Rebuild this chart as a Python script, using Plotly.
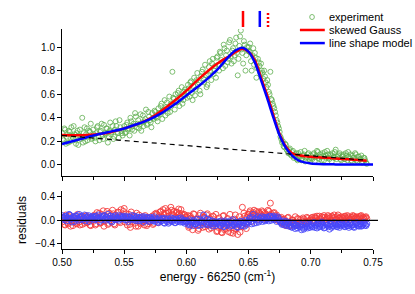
import plotly.graph_objects as go

# ---------------- data ----------------
# measured points come on two interleaved energy grids (energy - 66250, cm^-1)
grid_a = [round(0.5 + 0.00125 * i, 6) for i in range(197)]
grid_b = [round(0.500625 + 0.00125 * i, 6) for i in range(196)]

experiment_a = [
    0.27, 0.21, 0.30, 0.24, 0.19, 0.28, 0.32, 0.23, 0.26, 0.18, 0.29, 0.25, 0.22, 0.40, 0.27, 0.20, 0.31, 0.24, 0.28, 0.22,
    0.30, 0.23, 0.27, 0.33, 0.21, 0.29, 0.25, 0.34, 0.26, 0.31, 0.24, 0.36, 0.28, 0.22, 0.30, 0.33, 0.27, 0.38, 0.29, 0.25,
    0.33, 0.28, 0.36, 0.31, 0.40, 0.30, 0.35, 0.44, 0.32, 0.38, 0.34, 0.29, 0.42, 0.37, 0.47, 0.35, 0.41, 0.36, 0.44, 0.39,
    0.45, 0.40, 0.48, 0.43, 0.52, 0.46, 0.55, 0.49, 0.44, 0.58, 0.52, 0.79, 0.56, 0.60, 0.53, 0.63, 0.58, 0.66, 0.55, 0.64,
    0.62, 0.68, 0.58, 0.71, 0.55, 0.74, 0.64, 0.78, 0.70, 0.60, 0.79, 0.73, 0.85, 0.66, 0.77, 0.88, 0.72, 0.90, 0.80, 0.74,
    0.92, 0.80, 0.95, 0.87, 1.02, 0.84, 0.97, 0.90, 1.06, 0.86, 0.99, 0.93, 1.08, 0.76, 1.01, 1.14, 0.95, 1.05, 0.80, 1.00,
    1.00, 1.03, 0.80, 0.99, 0.95, 0.74, 0.90, 0.84, 0.86, 0.78, 0.80, 0.70, 0.72, 0.62, 0.79, 0.55, 0.50, 0.45, 0.38, 0.33,
    0.28, 0.22, 0.20, 0.15, 0.17, 0.12, 0.13, 0.09, 0.11, 0.06, 0.09, 0.05, 0.10, 0.07, 0.04, 0.08, 0.12, 0.06, 0.09, 0.05,
    0.08, 0.05, 0.10, 0.07, 0.12, 0.06, 0.09, 0.04, 0.08, 0.11, 0.06, 0.09, 0.05, 0.08, 0.10, 0.06, 0.13, 0.07, 0.09, 0.05,
    0.07, 0.09, 0.05, 0.08, 0.11, 0.06, 0.04, 0.08, 0.05, 0.09, 0.03, 0.07, 0.05, 0.02, 0.06, 0.04, 0.01,
]
experiment_b = [
    0.22, 0.31, 0.18, 0.26, 0.29, 0.20, 0.25, 0.33, 0.21, 0.27, 0.17, 0.30, 0.24, 0.19, 0.32, 0.26, 0.21, 0.29, 0.35, 0.23,
    0.26, 0.20, 0.32, 0.24, 0.28, 0.35, 0.22, 0.27, 0.31, 0.19, 0.29, 0.26, 0.33, 0.24, 0.37, 0.28, 0.23, 0.32, 0.27, 0.30,
    0.27, 0.34, 0.30, 0.25, 0.37, 0.33, 0.29, 0.41, 0.35, 0.31, 0.43, 0.36, 0.33, 0.39, 0.34, 0.45, 0.38, 0.32, 0.40, 0.46,
    0.41, 0.37, 0.44, 0.50, 0.39, 0.47, 0.42, 0.53, 0.48, 0.45, 0.51, 0.57, 0.47, 0.54, 0.61, 0.50, 0.56, 0.52, 0.62, 0.59,
    0.57, 0.65, 0.70, 0.61, 0.67, 0.59, 0.72, 0.68, 0.63, 0.75, 0.81, 0.70, 0.76, 0.68, 0.83, 0.79, 0.86, 0.77, 0.84, 0.91,
    0.85, 0.96, 0.89, 0.82, 0.99, 0.93, 0.87, 1.04, 0.92, 0.97, 0.88, 1.03, 0.95, 0.90, 1.09, 0.98, 0.86, 1.02, 0.93, 0.97,
    0.96, 0.88, 0.93, 0.85, 0.91, 0.82, 0.87, 0.78, 0.80, 0.73, 0.75, 0.66, 0.68, 0.60, 0.56, 0.52, 0.48, 0.42, 0.36, 0.31,
    0.24, 0.19, 0.16, 0.18, 0.13, 0.10, 0.14, 0.08, 0.12, 0.07, 0.10, 0.04, 0.08, 0.11, 0.06, 0.09, 0.03, 0.07, 0.10, 0.06,
    0.06, 0.09, 0.03, 0.08, 0.11, 0.05, 0.07, 0.10, 0.04, 0.08, 0.12, 0.06, 0.09, 0.03, 0.07, 0.11, 0.05, 0.08, 0.10, 0.04,
    0.08, 0.05, 0.10, 0.04, 0.07, 0.09, 0.03, 0.06, 0.10, 0.04, 0.07, 0.05, 0.08, 0.03, 0.06, 0.02,
]

resid_skewed_a = [
    -0.03, 0.05, -0.08, 0.02, -0.06, 0.08, -0.02, -0.09, 0.04, -0.05, 0.10, -0.03, 0.06, -0.07, 0.01, 0.07, -0.04, 0.03, -0.08, 0.05,
    -0.02, 0.09, -0.06, 0.04, 0.12, -0.04, 0.07, -0.10, 0.02, 0.15, -0.05, 0.08, -0.03, 0.11, -0.08, 0.05, 0.14, -0.02, 0.18, 0.06,
    0.20, 0.04, -0.08, 0.10, -0.12, 0.02, 0.08, -0.05, 0.12, -0.10, 0.03, -0.04, 0.06, -0.08, 0.01, -0.06, 0.04, -0.02, 0.07, -0.05,
    0.03, 0.10, -0.04, 0.14, 0.06, 0.18, 0.02, 0.12, 0.16, 0.08, 0.22, 0.10, 0.15, 0.05, 0.13, 0.19, 0.07, 0.11, 0.03, 0.09,
    -0.02, 0.08, -0.10, 0.04, -0.16, 0.10, -0.06, 0.02, -0.14, 0.12, -0.04, 0.06, -0.11, 0.09, -0.08, 0.03, -0.13, 0.07, -0.05, 0.10,
    -0.18, 0.04, -0.10, -0.21, 0.08, -0.14, -0.04, -0.19, 0.10, -0.08, -0.22, 0.02, -0.15, -0.24, 0.06, -0.11, 0.22, 0.12, -0.06, 0.05,
    0.10, 0.16, -0.02, 0.13, 0.06, 0.15, 0.02, 0.12, 0.08, 0.14, 0.04, 0.10, 0.06, 0.15, 0.29, 0.08, 0.12, 0.03, 0.09, 0.05,
    -0.02, 0.05, -0.06, 0.02, -0.09, 0.04, -0.05, -0.08, 0.01, -0.04, 0.06, -0.07, 0.02, -0.03, -0.06, 0.04, -0.01, -0.05, 0.03, -0.02,
    0.02, 0.05, -0.01, 0.04, 0.07, 0.01, 0.03, 0.06, -0.02, 0.05, 0.02, 0.08, 0.03, 0.00, 0.05, 0.09, 0.02, 0.06, 0.04, 0.01,
    0.05, 0.02, 0.07, 0.03, 0.06, 0.01, 0.04, 0.08, 0.02, 0.05, 0.03, 0.06, 0.07, 0.02, 0.04, 0.05, 0.03,
]
resid_skewed_b = [
    0.04, -0.07, 0.09, -0.04, 0.06, -0.10, 0.03, -0.01, 0.07, -0.06, 0.02, -0.08, 0.05, 0.00, -0.05, 0.08, -0.03, 0.04, -0.09, 0.02,
    0.07, -0.08, 0.13, 0.01, -0.05, 0.10, 0.16, -0.02, 0.06, -0.07, 0.12, 0.03, 0.17, -0.06, 0.09, 0.02, 0.13, -0.04, 0.08, 0.15,
    -0.03, 0.11, 0.05, -0.07, 0.14, -0.02, 0.06, -0.10, 0.02, 0.09, -0.06, 0.04, -0.01, 0.08, -0.09, 0.05, -0.03, 0.02, -0.07, 0.10,
    0.12, 0.01, 0.08, 0.15, 0.04, 0.11, 0.20, 0.06, 0.13, 0.00, 0.17, 0.09, 0.04, 0.14, 0.08, 0.12, 0.18, 0.02, 0.10, 0.06,
    0.05, -0.12, 0.07, -0.03, 0.11, -0.09, 0.01, -0.17, 0.08, -0.02, -0.12, 0.05, -0.07, 0.11, -0.15, 0.02, -0.09, 0.06, -0.04, -0.19,
    -0.12, -0.05, -0.20, 0.07, -0.16, -0.09, 0.03, -0.13, -0.21, -0.02, -0.17, 0.09, -0.12, -0.07, -0.20, 0.01, -0.10, 0.07, -0.14, 0.10,
    0.13, 0.06, 0.11, 0.17, 0.09, 0.04, 0.14, 0.10, 0.16, 0.07, 0.12, 0.02, 0.17, 0.08, 0.11, 0.05, 0.13, 0.07, 0.00, 0.04,
    0.03, -0.04, 0.01, -0.07, -0.02, 0.05, -0.10, -0.03, 0.00, -0.06, -0.09, 0.03, -0.04, 0.01, -0.07, 0.02, -0.03, 0.05, -0.01, 0.00,
    0.04, 0.00, 0.06, 0.03, -0.01, 0.07, 0.02, 0.05, 0.08, 0.01, 0.04, 0.06, -0.01, 0.07, 0.03, 0.05, 0.01, 0.09, 0.03, 0.06,
    0.03, 0.06, 0.01, 0.08, 0.04, 0.02, 0.05, 0.07, 0.03, 0.06, 0.01, 0.04, 0.08, 0.05, 0.02, 0.06,
]

resid_model_a = [
    0.08, 0.03, 0.06, -0.01, 0.04, 0.09, 0.02, 0.05, -0.02, 0.07, 0.03, 0.10, 0.01, 0.06, 0.04, -0.01, 0.05, 0.08, 0.02, 0.04,
    0.05, 0.01, 0.07, 0.03, -0.02, 0.06, 0.04, 0.08, 0.00, 0.05, 0.02, 0.07, -0.03, 0.04, 0.06, 0.01, 0.03, 0.08, 0.02, 0.05,
    0.04, 0.07, 0.01, 0.05, 0.02, 0.08, 0.03, 0.00, 0.06, 0.02, -0.01, 0.04, 0.01, 0.06, 0.00, 0.03, -0.02, 0.05, 0.01, 0.03,
    -0.02, 0.02, -0.04, 0.01, -0.01, 0.03, -0.05, 0.00, 0.02, -0.03, 0.04, -0.02, 0.01, -0.04, 0.00, 0.03, -0.03, 0.01, -0.02, -0.05,
    -0.03, -0.07, 0.01, -0.05, -0.09, -0.02, -0.06, 0.02, -0.04, -0.08, -0.01, 0.09, 0.03, -0.07, -0.03, 0.00, -0.06, -0.10, -0.02, -0.05,
    -0.06, -0.02, -0.09, -0.04, -0.11, -0.01, -0.07, -0.03, -0.10, -0.05, 0.01, -0.08, -0.04, -0.12, -0.06, -0.02, -0.09, -0.05, 0.00, -0.07,
    -0.03, 0.04, -0.06, 0.10, 0.02, -0.04, 0.06, 0.00, 0.03, -0.02, 0.05, 0.01, 0.04, -0.01, 0.06, 0.03, 0.07, 0.02, -0.02, 0.04,
    -0.01, -0.05, -0.03, -0.08, -0.02, -0.06, -0.10, -0.04, -0.12, -0.07, -0.14, -0.09, -0.05, -0.11, -0.16, -0.08, -0.12, -0.06, -0.13, -0.09,
    -0.07, -0.11, -0.04, -0.09, -0.13, -0.06, -0.10, -0.03, -0.08, -0.12, -0.05, -0.09, -0.15, -0.07, -0.10, -0.04, -0.08, -0.11, -0.06, -0.09,
    -0.05, -0.08, -0.11, -0.06, -0.09, -0.04, -0.10, -0.07, -0.12, -0.05, -0.08, -0.10, -0.06, -0.09, -0.04, -0.08, -0.06,
]
resid_model_b = [
    0.05, 0.01, 0.07, 0.04, 0.10, 0.02, -0.03, 0.06, 0.03, 0.08, 0.00, 0.05, 0.07, 0.02, 0.09, 0.03, 0.06, -0.02, 0.04, 0.07,
    0.02, 0.06, 0.03, 0.09, 0.04, 0.01, 0.07, 0.02, 0.05, 0.10, 0.03, -0.01, 0.06, 0.02, 0.08, 0.04, 0.00, 0.06, 0.03, 0.07,
    0.01, 0.05, -0.02, 0.06, 0.03, 0.01, 0.07, 0.04, -0.01, 0.05, 0.02, 0.06, -0.03, 0.03, 0.05, 0.00, 0.04, 0.02, -0.01, 0.06,
    0.01, -0.03, 0.04, -0.01, 0.02, -0.04, 0.03, -0.02, -0.05, 0.01, -0.01, 0.03, -0.04, 0.02, -0.02, 0.00, 0.04, -0.03, 0.00, -0.01,
    -0.01, -0.05, -0.08, -0.03, 0.00, -0.06, -0.04, -0.09, 0.01, -0.03, -0.07, -0.02, -0.05, 0.02, -0.08, -0.04, -0.01, -0.06, -0.09, -0.03,
    -0.04, -0.08, -0.01, -0.06, -0.10, -0.03, -0.08, -0.05, -0.01, -0.09, -0.06, -0.03, -0.11, -0.07, -0.02, -0.08, -0.04, -0.10, -0.05, -0.02,
    0.01, -0.02, 0.05, -0.05, 0.03, 0.00, -0.03, 0.04, 0.06, 0.01, -0.01, 0.05, 0.02, 0.07, 0.00, 0.05, 0.01, 0.04, 0.06, 0.01,
    -0.03, -0.07, -0.01, -0.05, -0.09, -0.04, -0.08, -0.11, -0.06, -0.10, -0.08, -0.13, -0.10, -0.07, -0.12, -0.15, -0.09, -0.11, -0.07, -0.12,
    -0.09, -0.05, -0.12, -0.08, -0.06, -0.11, -0.07, -0.10, -0.13, -0.05, -0.08, -0.11, -0.07, -0.12, -0.09, -0.06, -0.10, -0.07, -0.12, -0.08,
    -0.07, -0.10, -0.05, -0.09, -0.12, -0.06, -0.08, -0.11, -0.07, -0.04, -0.09, -0.06, -0.10, -0.07, -0.05, -0.09,
]

energy = grid_a + grid_b
experiment = experiment_a + experiment_b
resid_skewed = resid_skewed_a + resid_skewed_b
resid_model = resid_model_a + resid_model_b

# skewed Gauss fit (incl. linear background)
skewed_x = [0.500, 0.510, 0.520, 0.530, 0.540, 0.550, 0.560, 0.570, 0.580, 0.590, 0.600, 0.610, 0.620,
            0.625, 0.630, 0.635, 0.640, 0.645, 0.650, 0.655, 0.660, 0.665, 0.670, 0.675, 0.680, 0.685,
            0.690, 0.700, 0.710, 0.720, 0.730, 0.740, 0.745]
skewed_y = [0.255, 0.253, 0.255, 0.262, 0.280, 0.310, 0.345, 0.390, 0.460, 0.540, 0.630, 0.730, 0.820,
            0.860, 0.895, 0.925, 0.960, 0.985, 0.960, 0.890, 0.740, 0.590, 0.420, 0.260, 0.155, 0.100,
            0.083, 0.070, 0.062, 0.055, 0.048, 0.040, 0.036]

# line shape model
model_x = [0.500, 0.510, 0.520, 0.530, 0.540, 0.550, 0.560, 0.570, 0.580, 0.590, 0.600, 0.610, 0.620,
           0.625, 0.630, 0.635, 0.640, 0.645, 0.650, 0.655, 0.660, 0.665, 0.670, 0.675, 0.680, 0.685,
           0.690, 0.695, 0.700, 0.710, 0.720, 0.735, 0.750]
model_y = [0.178, 0.205, 0.235, 0.262, 0.285, 0.310, 0.345, 0.385, 0.440, 0.510, 0.590, 0.670, 0.760,
           0.810, 0.870, 0.930, 0.975, 0.995, 0.960, 0.870, 0.720, 0.565, 0.400, 0.250, 0.145, 0.080,
           0.040, 0.022, 0.013, 0.007, 0.005, 0.004, 0.004]

# linear background
baseline_x = [0.500, 0.745]
baseline_y = [0.250, 0.040]

# line positions marked above the spectrum
mark_solid_red = 0.6455
mark_solid_blue = 0.659
mark_dotted_red = 0.6656

legend_labels = ["experiment", "skewed Gauss", "line shape model"]

# ---------------- figure ----------------
GREEN = "rgb(95,175,80)"
RED = "rgb(255,0,0)"
BLUE = "rgb(0,0,255)"
RRED = "rgb(245,60,60)"
RBLUE = "rgb(70,70,250)"
FONT = "Liberation Sans, Arial, sans-serif"

fig = go.Figure()
fig.add_trace(go.Scatter(x=energy, y=experiment, mode="markers", name=legend_labels[0], showlegend=False,
                         marker=dict(symbol="circle-open", size=5, color=GREEN, line=dict(width=0.8)),
                         xaxis="x", yaxis="y"))
fig.add_trace(go.Scatter(x=skewed_x, y=skewed_y, mode="lines", name=legend_labels[1], showlegend=False,
                         line=dict(color=RED, width=2.5, shape="spline", smoothing=0.8),
                         xaxis="x", yaxis="y"))
fig.add_trace(go.Scatter(x=model_x, y=model_y, mode="lines", name=legend_labels[2], showlegend=False,
                         line=dict(color=BLUE, width=2.5, shape="spline", smoothing=0.8),
                         xaxis="x", yaxis="y"))
fig.add_trace(go.Scatter(x=baseline_x, y=baseline_y, mode="lines", showlegend=False,
                         line=dict(color="black", width=1.2, dash="5px,4px"),
                         xaxis="x", yaxis="y"))
fig.add_trace(go.Scatter(x=energy, y=resid_skewed, mode="markers", showlegend=False,
                         marker=dict(symbol="circle-open", size=6, color=RRED, line=dict(width=0.9)),
                         xaxis="x2", yaxis="y2"))
fig.add_trace(go.Scatter(x=energy, y=resid_model, mode="markers", showlegend=False,
                         marker=dict(symbol="circle-open", size=6, color=RBLUE, line=dict(width=0.9)),
                         xaxis="x2", yaxis="y2"))

shapes = [
    dict(type="line", xref="x2 domain", yref="y2", x0=0, x1=1.016, y0=0, y1=0,
         line=dict(color="black", width=1.2)),
    dict(type="line", xref="x", yref="paper", x0=mark_solid_red, x1=mark_solid_red, y0=1.009, y1=1.082,
         line=dict(color=RED, width=2.5)),
    dict(type="line", xref="x", yref="paper", x0=mark_solid_blue, x1=mark_solid_blue, y0=1.009, y1=1.082,
         line=dict(color=BLUE, width=2.5)),
    dict(type="line", xref="x", yref="paper", x0=mark_dotted_red, x1=mark_dotted_red, y0=1.009, y1=1.082,
         line=dict(color=RED, width=2.5, dash="2px,2px")),
    # legend keys
    dict(type="circle", xref="paper", yref="paper", x0=0.7965, x1=0.8115, y0=1.043, y1=1.066,
         line=dict(color=GREEN, width=0.8)),
    dict(type="line", xref="paper", yref="paper", x0=0.765, x1=0.845, y0=0.9955, y1=0.9955,
         line=dict(color=RED, width=2.5)),
    dict(type="line", xref="paper", yref="paper", x0=0.765, x1=0.845, y0=0.936, y1=0.936,
         line=dict(color=BLUE, width=2.5)),
]

annotations = [
    dict(text=lbl, xref="paper", yref="paper", x=0.853, y=yy, xanchor="left", yanchor="middle",
         showarrow=False, font=dict(family=FONT, size=11, color="black"))
    for lbl, yy in zip(legend_labels, [1.0545, 0.9955, 0.936])
]

axis_common = dict(showline=True, linecolor="black", linewidth=1, ticks="outside", tickcolor="black",
                   ticklen=4, tickwidth=1, showgrid=False, zeroline=False, mirror=False, automargin=False,
                   tickfont=dict(family=FONT, size=10, color="black"))

fig.update_layout(
    width=415, height=294,
    margin=dict(l=62, r=42, t=29, b=45),
    paper_bgcolor="white", plot_bgcolor="white",
    font=dict(family=FONT, size=10, color="black"),
    showlegend=False,
    xaxis=dict(**axis_common, range=[0.5, 0.75], domain=[0, 1], anchor="y", showticklabels=False,
               dtick=0.05, tick0=0.5, minor=dict(dtick=0.025, ticklen=3, ticks="outside", tickcolor="black")),
    yaxis=dict(**axis_common, range=[-0.093, 1.153], domain=[0.332, 1], anchor="x",
               tickvals=[0.0, 0.2, 0.4, 0.6, 0.8, 1.0], tickformat=".1f"),
    xaxis2=dict(**axis_common, range=[0.5, 0.75], domain=[0, 1], anchor="y2",
                dtick=0.05, tick0=0.5, tickformat=".2f",
                minor=dict(dtick=0.025, ticklen=3, ticks="outside", tickcolor="black"),
                title=dict(text="energy - 66250 (cm<sup>-1</sup>)", standoff=3,
                           font=dict(family=FONT, size=12, color="black"))),
    yaxis2=dict(**axis_common, range=[-0.486, 0.497], domain=[0, 0.264], anchor="x2",
                tickvals=[-0.4, 0.0, 0.4], tickformat=".1f",
                title=dict(text="residuals", standoff=6, font=dict(family=FONT, size=12, color="black"))),
    shapes=shapes,
    annotations=annotations,
)

fig.write_html("out.html", config={"displayModeBar": False},
               post_script="document.body.style.margin='0';document.body.style.overflow='hidden';")
